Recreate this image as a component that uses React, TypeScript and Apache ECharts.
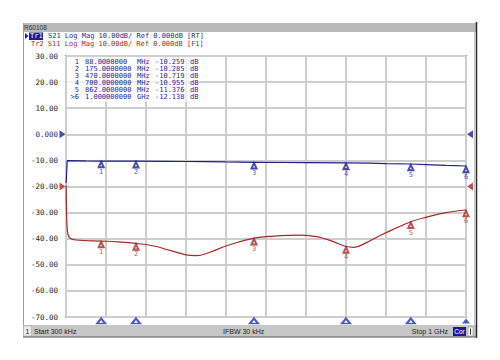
import React, { useEffect, useRef } from "react";
import * as echarts from "echarts";

// Trace S21 (MHz, dB)
const S21_FREQ = [0.3, 3, 50, 88, 150, 175, 250, 300, 350, 400, 470, 550, 600, 700, 760, 800, 862, 900, 950, 1000];
const S21_DB = [-18.7, -10.1, -10.2, -10.26, -10.28, -10.29, -10.35, -10.42, -10.5, -10.6, -10.72, -10.8, -10.85, -10.96, -11.05, -11.2, -11.38, -11.6, -11.9, -12.14];

// Trace S11 (MHz, dB)
const S11_FREQ = [0.3, 1.5, 3, 8, 25, 88, 130, 175, 220, 260, 300, 325, 360, 400, 470, 520, 585, 630, 670, 700, 720, 750, 785, 820, 862, 900, 950, 1000];
const S11_DB = [-19.5, -30, -36, -39.5, -40.5, -40.9, -41.2, -41.8, -42.8, -44.5, -46.2, -46.5, -45.2, -42.8, -39.8, -39, -38.6, -39.3, -41.2, -43, -43.3, -41.6, -38.8, -36.3, -33.5, -31.8, -30, -29];

// Markers
const MARKER_NUM = ["1", "2", "3", "4", "5", "6"];
const MARKER_FREQ = [88, 175, 470, 700, 862, 1000];
const MARKER_FREQ_TEXT = ["88.0000000", "175.0000000", "470.0000000", "700.0000000", "862.0000000", "1.000000000"];
const MARKER_UNIT = ["MHz", "MHz", "MHz", "MHz", "MHz", "GHz"];
const S21_MARKER = [-10.259, -10.285, -10.719, -10.955, -11.376, -12.138];
const S11_MARKER = [-40.9, -41.8, -39.8, -43.0, -33.5, -29.0];

// Reference levels
const REF_LEVELS = [0, -20];

const X_MIN = 0;
const X_MAX = 1000;
const X_STEP = 100;
const Y_MIN = -70;
const Y_MAX = 30;
const Y_STEP = 10;

const HEADER_TR1 = "S21 Log Mag 10.00dB/ Ref 0.000dB [RT]";
const HEADER_TR2 = "Tr2 S11 Log Mag 10.00dB/ Ref 0.000dB [F1]";
const STATUS_START = "Start 300 kHz";
const STATUS_IFBW = "IFBW 30 kHz";
const STATUS_STOP = "Stop 1 GHz";

const BLUE = "#1f1f92";
const RED = "#a02a28";
const MONO = '"DejaVu Sans Mono", monospace';
const SANS = '"Liberation Sans", Arial, sans-serif';

function txt(text: string, x: number, y: number, fill: string, fontSize = 7, fontFamily = MONO, align = "left") {
  return {
    type: "text",
    z: 20,
    style: {
      text,
      x,
      y,
      fill,
      fontSize,
      fontFamily,
      align,
      textAlign: align,
      verticalAlign: "middle",
      textVerticalAlign: "middle",
    },
  };
}

export default function App() {
  const ref = useRef<HTMLDivElement>(null);

  useEffect(() => {
    if (!ref.current) return;
    const chart = echarts.init(ref.current, null, { renderer: "svg" });

    const graphics: any[] = [];
    // window frame
    graphics.push({ type: "rect", z: 5, shape: { x: 23, y: 23, width: 453, height: 9 }, style: { fill: "#b9b9b9" } });
    graphics.push(txt("R60108", 24, 27.5, "#333", 6.5, SANS));
    graphics.push({ type: "line", z: 5, shape: { x1: 23.5, y1: 23, x2: 23.5, y2: 337 }, style: { stroke: "#9a9a9a", lineWidth: 1 } });
    graphics.push({ type: "line", z: 5, shape: { x1: 474.5, y1: 32, x2: 474.5, y2: 325 }, style: { stroke: "#c4c4c4", lineWidth: 1 } });
    graphics.push({ type: "line", z: 6, shape: { x1: 476.5, y1: 22, x2: 476.5, y2: 338 }, style: { stroke: "#2a2a2a", lineWidth: 1.5 } });
    // status bar
    graphics.push({ type: "rect", z: 5, shape: { x: 23, y: 325, width: 453, height: 12 }, style: { fill: "#c6c6c6" } });
    graphics.push({ type: "line", z: 6, shape: { x1: 23, y1: 337, x2: 477, y2: 337 }, style: { stroke: "#555", lineWidth: 1 } });
    graphics.push({ type: "rect", z: 6, shape: { x: 23.5, y: 326, width: 8, height: 10 }, style: { fill: "#ececec", stroke: "#999", lineWidth: 0.5 } });
    graphics.push(txt("1", 27.5, 331, "#222", 7, SANS, "center"));
    graphics.push(txt(STATUS_START, 34, 331, "#222", 7, SANS));
    graphics.push(txt(STATUS_IFBW, 223, 331, "#222", 7, SANS));
    graphics.push(txt(STATUS_STOP, 448, 331, "#222", 7, SANS, "right"));
    graphics.push({ type: "rect", z: 6, shape: { x: 453, y: 327, width: 13, height: 9 }, style: { fill: "#1c1c8c" } });
    graphics.push(txt("Cor", 459.5, 331.5, "#fff", 6.5, SANS, "center"));
    graphics.push({ type: "rect", z: 6, shape: { x: 468, y: 327, width: 5, height: 9 }, style: { fill: "#f4f4f4", stroke: "#888", lineWidth: 0.5 } });
    graphics.push({ type: "line", z: 7, shape: { x1: 470.5, y1: 328.5, x2: 470.5, y2: 334.5 }, style: { stroke: "#333", lineWidth: 1 } });

    // header
    graphics.push({ type: "polygon", z: 10, shape: { points: [[25, 33], [25, 39], [28.5, 36]] }, style: { fill: BLUE } });
    graphics.push({ type: "rect", z: 10, shape: { x: 29, y: 32.5, width: 14, height: 7.5 }, style: { fill: "#1c1c8c" } });
    graphics.push(txt("Tr1", 30, 36.3, "#fff", 7));
    graphics.push(txt(HEADER_TR1, 48, 36.3, BLUE, 7));
    graphics.push(txt(HEADER_TR2, 31, 44, RED, 7));

    // marker table overlay
    graphics.push({ type: "rect", z: 3, shape: { x: 67, y: 57, width: 132, height: 45 }, style: { fill: "rgba(255,255,255,0.65)" } });
    MARKER_NUM.forEach((n, i) => {
      const y = 61.5 + i * 7.1;
      const label = i === MARKER_NUM.length - 1 ? ">" + n : n;
      graphics.push(txt(label, 79, y, BLUE, 7, MONO, "right"));
      graphics.push(txt(MARKER_FREQ_TEXT[i], 85, y, BLUE, 7));
      graphics.push(txt(MARKER_UNIT[i], 137, y, BLUE, 7));
      graphics.push(txt(S21_MARKER[i].toFixed(3), 155, y, BLUE, 7));
      graphics.push(txt("dB", 190, y, BLUE, 7));
    });

    const markerSeries = (vals: number[], color: string) => ({
      type: "scatter",
      data: MARKER_FREQ.map((f, i) => [f, vals[i]]),
      symbol: "emptyTriangle",
      symbolSize: [5, 5.5],
      symbolOffset: [0, 3.5],
      itemStyle: { color, borderWidth: 0.8 },
      z: 6,
      clip: false,
      label: {
        show: true,
        position: "bottom",
        distance: 0,
        formatter: (p: any) => MARKER_NUM[p.dataIndex],
        color,
        fontSize: 7,
        fontFamily: MONO,
      },
    });

    chart.setOption({
      animation: false,
      backgroundColor: "#ffffff",
      grid: {
        left: 66,
        top: 56,
        width: 400,
        height: 261,
        show: true,
        backgroundColor: "#ffffff",
        borderColor: "#505050",
        borderWidth: 1.5,
      },
      xAxis: {
        type: "value",
        min: X_MIN,
        max: X_MAX,
        interval: X_STEP,
        axisLabel: { show: false },
        axisTick: { show: false },
        axisLine: { show: false },
        splitLine: { show: true, lineStyle: { color: "#cdcdcd", width: 2 } },
      },
      yAxis: {
        type: "value",
        min: Y_MIN,
        max: Y_MAX,
        interval: Y_STEP,
        axisTick: { show: false },
        axisLine: { show: false },
        splitLine: { show: true, lineStyle: { color: "#cdcdcd", width: 2 } },
        axisLabel: {
          margin: 8,
          fontSize: 7.5,
          fontFamily: MONO,
          color: (v: any) => (Number(v) === 0 ? BLUE : "#222"),
          formatter: (v: number) => (v === 0 ? "0.000" : v.toFixed(2)),
        },
      },
      graphic: graphics,
      series: [
        {
          type: "line",
          name: "S21",
          data: S21_FREQ.map((f, i) => [f, S21_DB[i]]),
          symbol: "none",
          lineStyle: { color: BLUE, width: 1.2 },
          z: 4,
        },
        {
          type: "line",
          name: "S11",
          data: S11_FREQ.map((f, i) => [f, S11_DB[i]]),
          symbol: "none",
          smooth: 0.4,
          lineStyle: { color: RED, width: 1.2 },
          z: 4,
        },
        markerSeries(S21_MARKER, BLUE),
        markerSeries(S11_MARKER, RED),
        {
          type: "scatter",
          data: MARKER_FREQ.map((f, i) => ({
            value: [f, Y_MIN],
            symbol: i === MARKER_FREQ.length - 1 ? "triangle" : "emptyTriangle",
          })),
          symbolSize: [8, 5],
          symbolOffset: [0, 4],
          itemStyle: { color: "#1f2fb0", borderWidth: 1 },
          clip: false,
          z: 7,
          silent: true,
        },
        {
          type: "scatter",
          data: REF_LEVELS.map((v, i) => ({ value: [X_MIN, v], itemStyle: { color: i === 0 ? BLUE : RED } })),
          symbol: "triangle",
          symbolRotate: -90,
          symbolSize: [8, 6],
          symbolOffset: [-3.5, 0],
          clip: false,
          z: 7,
          silent: true,
        },
        {
          type: "scatter",
          data: REF_LEVELS.map((v, i) => ({ value: [X_MAX, v], itemStyle: { color: i === 0 ? BLUE : RED } })),
          symbol: "triangle",
          symbolRotate: 90,
          symbolSize: [8, 6],
          symbolOffset: [4, 0],
          clip: false,
          z: 7,
          silent: true,
        },
      ],
    });

    return () => chart.dispose();
  }, []);

  return (
    <div
      ref={ref}
      style={{ position: "fixed", left: 0, top: 0, width: 500, height: 360, background: "#fff" }}
    />
  );
}
